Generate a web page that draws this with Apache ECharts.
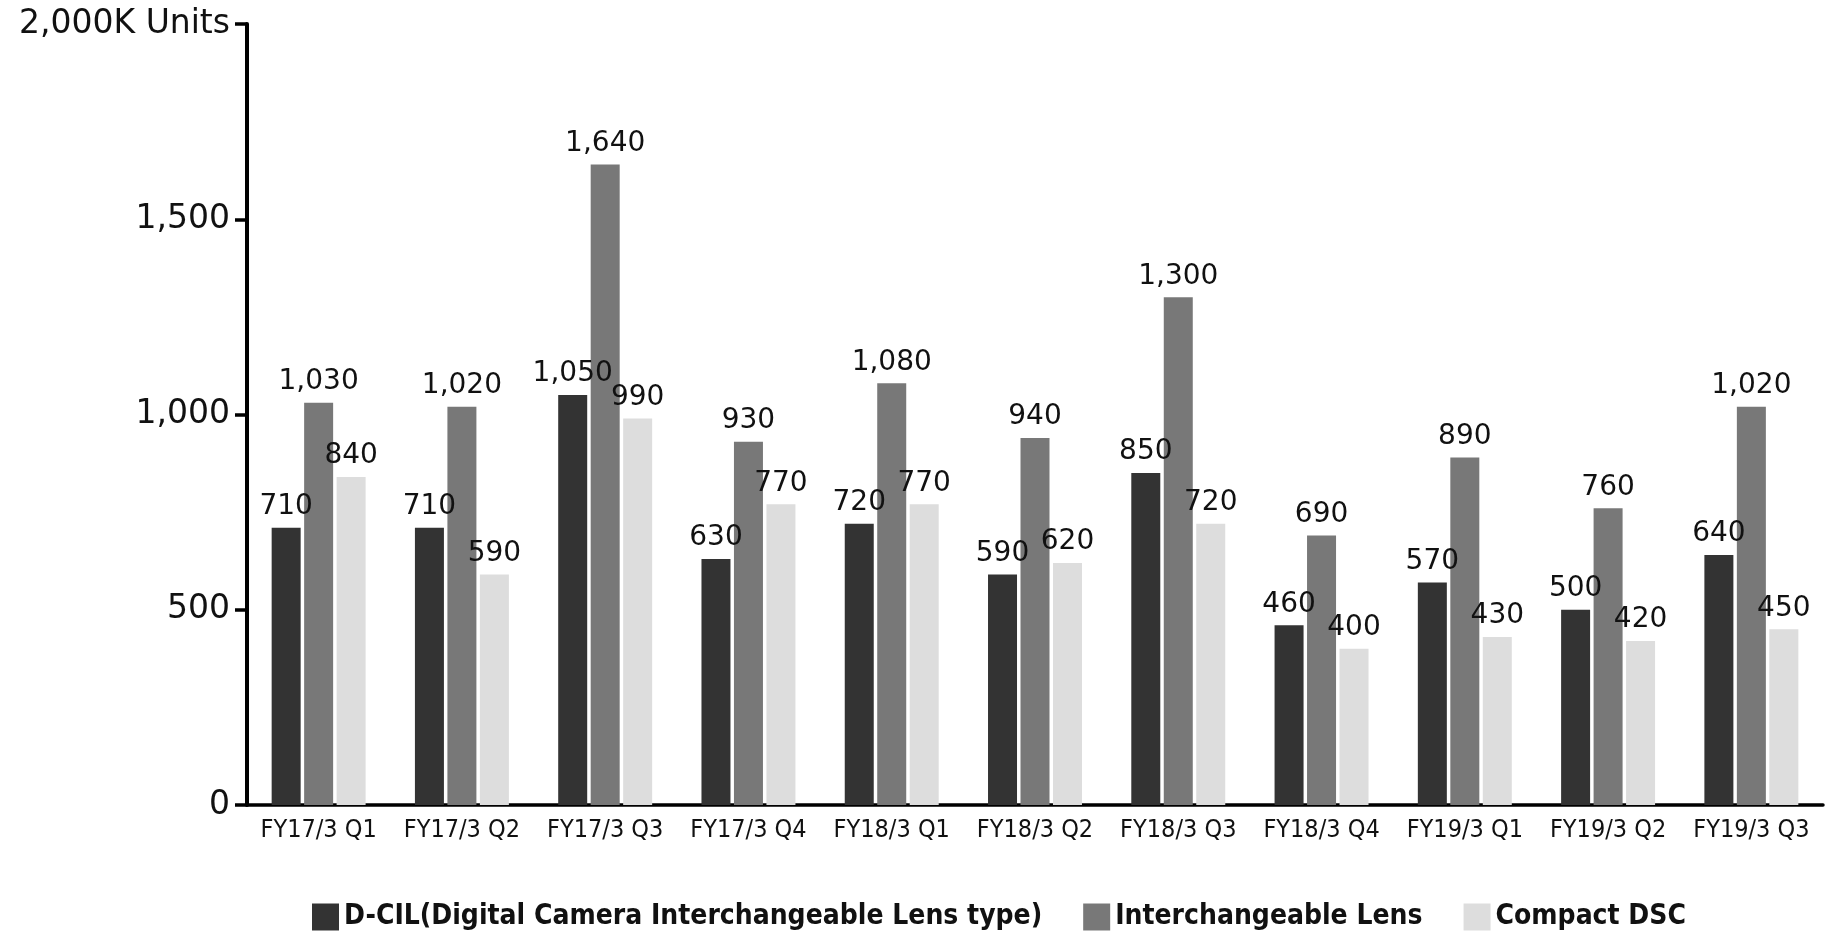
<!DOCTYPE html>
<html>
<head>
<meta charset="utf-8">
<script src="https://cdn.jsdelivr.net/npm/echarts@6/dist/echarts.min.js"></script>
<style>
  html, body { margin: 0; padding: 0; background: #fff; }
  #chart { width: 1843px; height: 931px; }
</style>
</head>
<body>
<div id="chart"></div>
<script>
// quarterly units, thousands
var quarters = ['FY17/3 Q1','FY17/3 Q2','FY17/3 Q3','FY17/3 Q4','FY18/3 Q1','FY18/3 Q2',
                'FY18/3 Q3','FY18/3 Q4','FY19/3 Q1','FY19/3 Q2','FY19/3 Q3'];
var dcil    = [710, 710, 1050, 630, 720, 590, 850, 460, 570, 500, 640];
var ilens   = [1030, 1020, 1640, 930, 1080, 940, 1300, 690, 890, 760, 1020];
var compact = [840, 590, 990, 770, 770, 620, 720, 400, 430, 420, 450];
var names = ['D-CIL(Digital Camera Interchangeable Lens type)', 'Interchangeable Lens', 'Compact DSC'];

var myChart = echarts.init(document.getElementById('chart'));

function fmt(v){
  return v.toString().replace(/\B(?=(\d{3})+(?!\d))/g, ',');
}

function bar(name, data, color){
  return {
    name: name,
    type: 'bar',
    data: data,
    barWidth: 29,
    barGap: '12%',
    itemStyle: { color: color },
    label: {
      show: true,
      position: 'top',
      distance: 7,
      color: '#111',
      fontFamily: 'DejaVu Sans',
      fontSize: 28,
      formatter: function(p){ return fmt(p.value); }
    }
  };
}

var option = {
  animation: false,
  textStyle: { fontFamily: 'DejaVu Sans' },
  grid: { left: 247, right: 20, top: 24, bottom: 126, containLabel: false },
  legend: {
    left: 307,
    top: 898,
    itemWidth: 27,
    itemHeight: 27,
    itemGap: 41,
    itemTextGap: 8,
    icon: 'rect',
    textStyle: { fontFamily: 'DejaVu Sans Condensed', fontWeight: 'bold', fontSize: 28, color: '#111' },
    data: names
  },
  xAxis: {
    type: 'category',
    data: quarters,
    axisLine: { lineStyle: { color: '#000', width: 3.5 } },
    axisTick: { show: false },
    axisLabel: { interval: 0, fontFamily: 'DejaVu Sans Condensed', fontSize: 25, color: '#111', margin: 13 }
  },
  yAxis: {
    type: 'value',
    min: 0,
    max: 2000,
    interval: 500,
    splitLine: { show: false },
    axisLine: { show: true, lineStyle: { color: '#000', width: 4 } },
    axisTick: { show: true, length: 12, lineStyle: { color: '#000', width: 3.5 } },
    axisLabel: {
      fontFamily: 'DejaVu Sans',
      fontSize: 33,
      color: '#111',
      margin: 17,
      formatter: function(v){ return v === 2000 ? '2,000K Units' : fmt(v); }
    }
  },
  series: [
    bar(names[0], dcil, '#333333'),
    bar(names[1], ilens, '#787878'),
    bar(names[2], compact, '#dddddd')
  ]
};

myChart.setOption(option);
</script>
</body>
</html>
